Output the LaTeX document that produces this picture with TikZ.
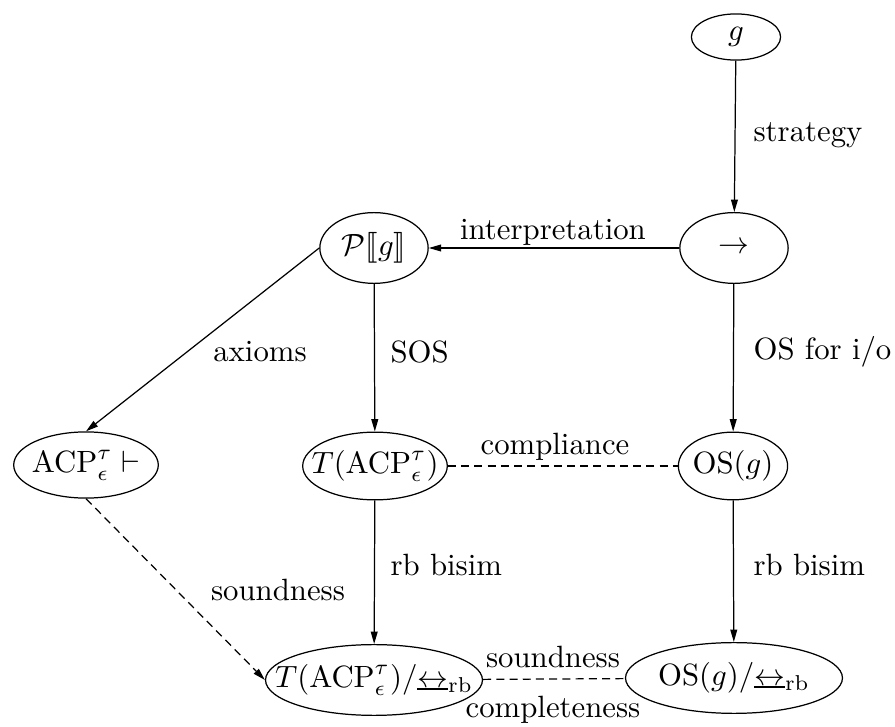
\documentclass[tikz,border=0pt]{standalone}
\usetikzlibrary{shapes.geometric,arrows.meta}
\usepackage{amssymb}
\usepackage{stmaryrd}
% rooted branching bisimulation symbol
\newcommand{\bisrb}{{\vtop{\hbox{$\leftrightarrow$}\kern0.2pt\hrule height 0.7pt}}_{\mathrm{rb}}}
% zero-width label so the ellipse keeps its given size
\newcommand{\zw}[1]{\makebox[0pt]{#1}}
\begin{document}
\begin{tikzpicture}[x=0.325pt,y=-0.325pt,
  state/.style={ellipse,draw,line width=0.4pt,inner sep=0pt},
  arr/.style={line width=0.4pt,-{Triangle[length=4pt,width=2.2pt]}},
  dsh/.style={line width=0.4pt,dash pattern=on 2.6pt off 1.7pt},
  lbl/.style={inner sep=0pt}]
\useasboundingbox (0,0) rectangle (895,727);

% states
\node[state,minimum width=29pt,minimum height=15pt] (g) at (736,37) {\zw{$g$}};
\node[state,minimum width=35.2pt,minimum height=23pt] (tr) at (734,248) {\zw{$\rightarrow$}};
\node[state,minimum width=35.2pt,minimum height=23pt] (P) at (374,248) {\zw{$\mathcal{P}\llbracket g\rrbracket$}};
\node[state,minimum width=47pt,minimum height=21.5pt] (acp) at (86,465) {\zw{$\mathrm{ACP}^\tau_\epsilon\vdash$}};
\node[state,minimum width=47pt,minimum height=22pt] (T) at (375,466) {\zw{$T(\mathrm{ACP}^\tau_\epsilon)$}};
\node[state,minimum width=35.5pt,minimum height=22pt] (os) at (733,466) {\zw{$\mathrm{OS}(g)$}};
\node[state,minimum width=70.5pt,minimum height=23pt] (Tq) at (374,680) {\zw{$T(\mathrm{ACP}^\tau_\epsilon)/\bisrb$}};
\node[state,minimum width=70.5pt,minimum height=23pt] (osq) at (734,678) {\zw{$\mathrm{OS}(g)/\bisrb$}};

% connectors
\draw[arr] (g) -- (tr);
\draw[arr] (tr) -- (P);
\draw[arr] (P.west) -- (acp.north);
\draw[arr] (P) -- (T);
\draw[arr] (tr) -- (os);
\draw[dsh] (T) -- (os);
\draw[arr] (T) -- (Tq);
\draw[arr] (os) -- (osq);
\draw[dsh,arr] (acp.south) -- (Tq.west);
\draw[dsh] (Tq) -- (osq);

% labels
\node[lbl,anchor=west] (lstrat) at (753,135) {strategy};
\node[lbl] (linterp) at (553,232) {interpretation};
\node[lbl] (laxioms) at (260,352) {axioms};
\node[lbl,anchor=west] (lsos) at (390,352) {SOS};
\node[lbl,anchor=west] (losio) at (753,352) {OS for i/o};
\node[lbl] (lcompl) at (555,447) {compliance};
\node[lbl,anchor=west] (lrb1) at (390,565) {rb bisim};
\node[lbl,anchor=west] (lrb2) at (753,565) {rb bisim};
\node[lbl] (lsound1) at (278,590) {soundness};
\node[lbl] (lsound2) at (553,657) {soundness};
\node[lbl] (lcomplete) at (553,710) {completeness};
\end{tikzpicture}
\end{document}
